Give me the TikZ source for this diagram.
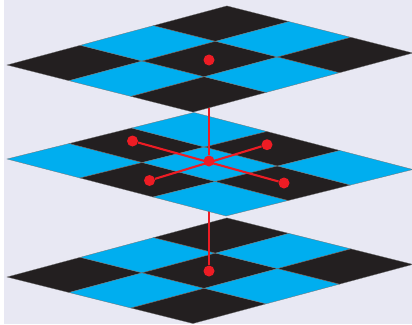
\documentclass[tikz,border=0pt]{standalone}
\usepackage{xcolor}
\usetikzlibrary{positioning}
\definecolor{paneback}{HTML}{E8E8F3}
\definecolor{cellblue}{HTML}{00AEEF}
\definecolor{cellblack}{HTML}{231F20}
\definecolor{linkred}{HTML}{ED1C24}
\pgfdeclarelayer{paper}
\pgfdeclarelayer{planeC}
\pgfdeclarelayer{linkC}
\pgfdeclarelayer{planeB}
\pgfdeclarelayer{linkB}
\pgfdeclarelayer{planeA}
\pgfsetlayers{paper,planeC,linkC,planeB,linkB,planeA,main}
\begin{document}
\begin{tikzpicture}[
    x=1pt, y=-1pt,
    cell/.style={draw=black!55, line width=0.3pt},
    dot/.style={circle, fill=linkred, inner sep=0pt, minimum size=11pt},
    link/.style={draw=linkred, line width=2.1pt},
  ]
    \useasboundingbox (0,0) rectangle (412,324);
    \begin{pgfonlayer}{paper}
      \fill[paneback] (4,0) rectangle (412,324);
    \end{pgfonlayer}
    \node[dot] (top) at (209,60) {};
    \node[dot] (mid) at (209,161) {};
    \node[dot] (bot) at (209,271) {};
    \node[dot] (nw) at (132.5,141) {};
    \node[dot] (ne) at (267,144.7) {};
    \node[dot] (sw) at (149.5,180.5) {};
    \node[dot] (se) at (284,183) {};
    \draw[link] (nw) -- (se);
    \draw[link] (ne) -- (sw);
    \begin{pgfonlayer}{linkC}
      \draw[link] (mid) -- (bot);
    \end{pgfonlayer}
    \begin{pgfonlayer}{linkB}
      \draw[link] (top) -- (mid);
    \end{pgfonlayer}
    % bottom plane
    \begin{pgfonlayer}{planeC}
      \foreach \i in {0,1,2}{
        \foreach \j in {0,1,2}{
          \pgfmathtruncatemacro{\oddcell}{mod(\i+\j,2)}
          \ifnum\oddcell=0 \def\cellcol{cellblack}\else \def\cellcol{cellblue}\fi
          \filldraw[cell, fill=\cellcol] (7+\i*73.3+\j*62, 277-\i*19.7+\j*15.5)
            -- ++(73.3,-19.7) -- ++(62,15.5) -- ++(-73.3,19.7) -- cycle;
        }
      }
    \end{pgfonlayer}
    % middle plane
    \begin{pgfonlayer}{planeB}
      \foreach \i in {0,1,2}{
        \foreach \j in {0,1,2}{
          \pgfmathtruncatemacro{\oddcell}{mod(\i+\j,2)}
          \ifnum\oddcell=0 \def\cellcol{cellblue}\else \def\cellcol{cellblack}\fi
          \filldraw[cell, fill=\cellcol] (7+\i*62.3+\j*73, 159-\i*15.5+\j*19)
            -- ++(62.3,-15.5) -- ++(73,19) -- ++(-62.3,15.5) -- cycle;
        }
      }
    \end{pgfonlayer}
    % top plane
    \begin{pgfonlayer}{planeA}
      \foreach \i in {0,1,2}{
        \foreach \j in {0,1,2}{
          \pgfmathtruncatemacro{\oddcell}{mod(\i+\j,2)}
          \ifnum\oddcell=0 \def\cellcol{cellblack}\else \def\cellcol{cellblue}\fi
          \filldraw[cell, fill=\cellcol] (7+\i*73.3+\j*62, 65-\i*19.7+\j*15.7)
            -- ++(73.3,-19.7) -- ++(62,15.7) -- ++(-73.3,19.7) -- cycle;
        }
      }
    \end{pgfonlayer}
\end{tikzpicture}
\end{document}
